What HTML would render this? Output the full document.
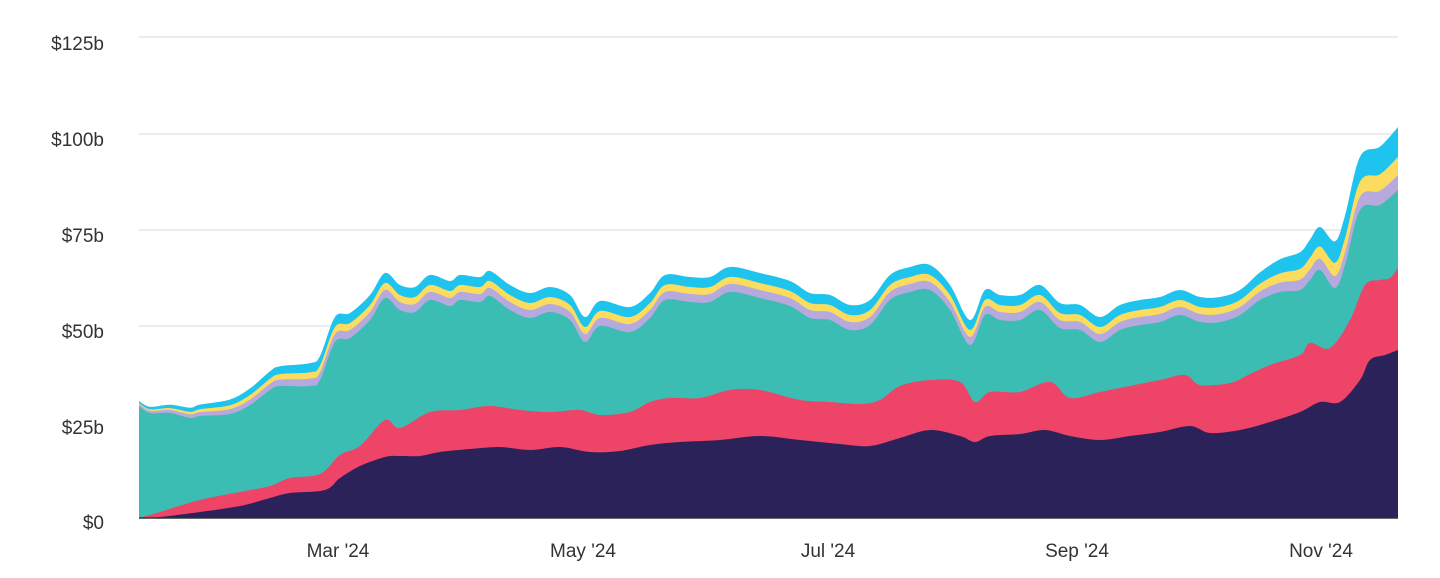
<!DOCTYPE html>
<html><head><meta charset="utf-8"><style>
html,body{margin:0;padding:0;background:#fff;width:1440px;height:578px;overflow:hidden}
svg{display:block}
text{font-family:"Liberation Sans",sans-serif;font-size:19px;fill:#333}
</style></head><body>
<svg id="s" width="1440" height="578" xmlns="http://www.w3.org/2000/svg">
<g stroke="#e6e6e6" stroke-width="1.5">
<line x1="139" x2="1398" y1="37" y2="37"/><line x1="139" x2="1398" y1="134" y2="134"/>
<line x1="139" x2="1398" y1="230" y2="230"/><line x1="139" x2="1398" y1="326" y2="326"/>
<line x1="139" x2="1398" y1="422" y2="422"/>
</g>
<g text-anchor="end">
<text x="104" y="50">$125b</text><text x="104" y="146">$100b</text><text x="104" y="242">$75b</text>
<text x="104" y="338">$50b</text><text x="104" y="434">$25b</text><text x="104" y="529">$0</text>
</g>
<g id="areas"></g>
<line x1="139" x2="1398" y1="518" y2="518" stroke="#333" stroke-width="1.5"/>
<g text-anchor="middle">
<text x="338" y="557">Mar '24</text><text x="583" y="557">May '24</text><text x="828" y="557">Jul '24</text>
<text x="1077" y="557">Sep '24</text><text x="1321" y="557">Nov '24</text>
</g>
</svg>
<script>
var navy=[[139,518],[160,517],[200,512],[240,506],[270,498],[290,493],[325,490],[340,478],[360,466],[385,457],[400,456],[420,456],[440,452],[470,449],[500,447],[530,450],[560,447],[590,452],[620,451],[650,445],[680,442],[720,440],[760,436],[800,440],[840,444],[870,446],[900,438],[930,430],[960,436],[975,442],[990,436],[1020,434],[1045,430],[1070,436],[1100,440],[1130,436],[1160,432],[1190,426],[1210,433],[1240,430],[1270,422],[1300,412],[1320,402],[1340,402],[1360,380],[1370,360],[1385,355],[1398,350]];
var red=[[139,518],[160,512],[200,500],[240,492],[270,486],[290,478],[320,474],[340,455],[360,446],[385,420],[400,428],[430,412],[460,410],[490,406],[520,410],[550,412],[580,410],[600,415],[630,412],[650,402],[670,398],[700,398],[730,390],[760,390],[800,400],[830,402],[860,404],[880,400],[900,386],[930,380],[960,382],[975,402],[990,392],[1020,392],[1050,382],[1070,398],[1100,392],[1130,386],[1160,380],[1185,375],[1200,385],[1230,383],[1250,374],[1270,365],[1300,355],[1310,343],[1330,348],[1350,320],[1365,285],[1380,280],[1390,278],[1398,268]];
var teal=[[139,406],[150,413],[170,413],[190,418],[200,416],[230,414],[250,405],[270,390],[280,386],[310,386],[320,380],[335,342],[350,338],[370,320],[385,298],[400,310],[415,312],[430,300],[450,306],[460,300],[480,302],[490,296],[510,310],[530,318],[550,312],[570,320],[585,342],[600,326],[630,332],[650,318],[665,300],[690,302],[710,302],[730,292],[760,298],[790,306],[810,318],[830,320],[850,330],[870,325],[890,300],[910,292],[930,290],[950,310],[970,345],[985,315],[1000,320],[1020,320],[1040,310],[1060,328],[1080,330],[1100,342],[1120,330],[1140,325],[1160,322],[1180,315],[1200,322],[1220,322],[1240,315],[1260,300],[1280,292],[1300,290],[1310,280],[1320,270],[1335,288],[1345,265],[1360,210],[1380,205],[1398,190]];
function dd(x,a,b,c){ if(x<330) return a+(b-a)*(x-139)/191; if(x<1250) return b; return b+(c-b)*(x-1250)/148;}
var lav=teal.map(p=>[p[0],p[1]-dd(p[0],2,8,15)]);
var yel=lav.map(p=>[p[0],p[1]-dd(p[0],1,7,18)]);
var cya=yel.map(p=>[p[0],p[1]-dd(p[0],2,10,30)]);
function sm(pts){var d='';for(var i=0;i<pts.length-1;i++){var p0=pts[Math.max(i-1,0)],p1=pts[i],p2=pts[i+1],p3=pts[Math.min(i+2,pts.length-1)];
var c1=[p1[0]+(p2[0]-p0[0])/6,p1[1]+(p2[1]-p0[1])/6],c2=[p2[0]-(p3[0]-p1[0])/6,p2[1]-(p3[1]-p1[1])/6];
d+=' C'+c1[0].toFixed(1)+','+c1[1].toFixed(1)+' '+c2[0].toFixed(1)+','+c2[1].toFixed(1)+' '+p2[0]+','+p2[1].toFixed(1);}return d;}
var g=document.getElementById('areas'),h='';
[[cya,'#1ec3ee'],[yel,'#fbdc5e'],[lav,'#b6a9de'],[teal,'#3bbdb4'],[red,'#ee4467'],[navy,'#2b2259']].forEach(function(l){
var p=l[0];h+='<path fill="'+l[1]+'" d="M139,518 L'+p[0][0]+','+p[0][1].toFixed(1)+sm(p)+' L1398,518 Z"/>';});
g.innerHTML=h;
</script>
</body></html>
